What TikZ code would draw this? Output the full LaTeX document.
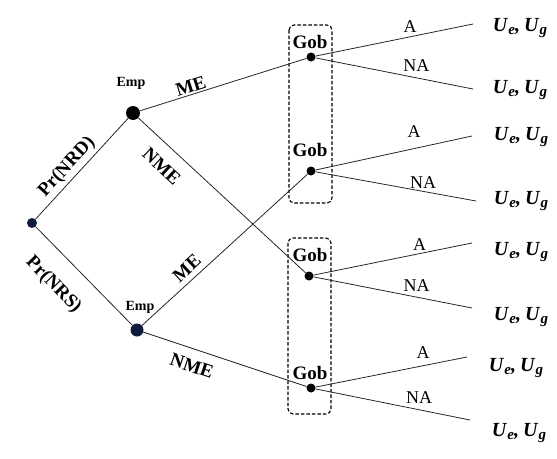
\documentclass[tikz,border=0pt]{standalone}
\usepackage{fontspec}
\setmainfont{Liberation Serif}
\definecolor{navy}{RGB}{16,28,60}
\newcommand{\paysub}[1]{\kern1pt\raisebox{-3.5pt}{\fontsize{15}{15}\selectfont #1}}

\begin{document}
\begin{tikzpicture}[x=1pt,y=-1pt,
  dot/.style={circle,fill=black,inner sep=0pt,minimum size=#1},
  branch/.style={line width=0.8pt,draw=black!85},
  movelab/.style={font=\fontsize{19}{21}\selectfont\bfseries,inner sep=1pt,sloped},
  actlab/.style={font=\fontsize{18}{20}\selectfont,inner sep=1pt},
  playerlab/.style={font=\fontsize{19}{21}\selectfont\bfseries,inner sep=1pt},
  paylab/.style={font=\fontsize{20}{22}\selectfont\bfseries\itshape,inner sep=1pt},
  infoset/.style={line width=1.1pt,dash pattern=on 3.5pt off 2pt,rounded corners=5pt}]
  \useasboundingbox (0,0) rectangle (557,458);
  % decision nodes
  \node[dot=10pt,fill=navy] (R) at (32,223) {};
  \node[dot=14pt] (E1) at (133,113) {};
  \node[dot=13pt,fill=navy] (E2) at (137,330) {};
  \node[dot=9pt] (G1) at (311,57) {};
  \node[dot=9pt] (G2) at (311,171) {};
  \node[dot=9pt] (G3) at (309,276) {};
  \node[dot=9pt] (G4) at (311,388) {};
  % player labels
  \node[playerlab,font=\fontsize{14}{16}\selectfont\bfseries] (EL1) at (131,83) {Emp};
  \node[playerlab,font=\fontsize{14}{16}\selectfont\bfseries] (EL2) at (140,307) {Emp};
  \foreach \g/\y in {G1/42,G2/150,G3/255,G4/373}
    \node[playerlab] (L\g) at (310,\y) {Gob};
  % information sets
  \draw[infoset] (289,25) rectangle (332,203);
  \draw[infoset] (288,238) rectangle (331,414);
  % chance and employer moves
  \draw[branch] (R) -- node[movelab,pos=.435,above=2pt] {Pr(NRD)} (E1);
  \draw[branch] (R) -- node[movelab,pos=.39,below=18pt] {Pr(NRS)} (E2);
  \draw[branch] (E1) -- node[movelab,pos=.32,above=0.5pt] {ME} (G1);
  \draw[branch] (E1) -- node[movelab,pos=.22,below=12pt] {NME} (G3);
  \draw[branch] (E2) -- node[movelab,pos=.32,above=4.5pt] {ME} (G2);
  \draw[branch] (E2) -- node[movelab,pos=.33,below=9pt] {NME} (G4);
  % payoffs
  \foreach \l/\x/\y/\px/\py in {L1/473/24/520/28,L2/473/89/520/90,L3/472/136/521/137,L4/476/201/521/201,
                                L5/472/243/521/252,L6/472/308/521/317,L7/467/357/516/368,L8/470/420/519/433}
  {
    \coordinate (\l) at (\x,\y);
    \node[paylab] (P\l) at (\px,\py) {U\paysub{e},\kern4pt U\paysub{g}};
  }
  % government moves
  \foreach \g/\l/\lab/\p/\d in {G1/L1/A/.6/2.5,G1/L2/NA/.64/5,G2/L3/A/.63/9.5,G2/L4/NA/.67/1.5,
                                G3/L5/A/.67/1.5,G3/L6/NA/.65/4.5,G4/L7/A/.71/5.5,G4/L8/NA/.67/5}
    \draw[branch] (\g) -- node[actlab,pos=\p,above=\d pt] {\lab} (\l);
\end{tikzpicture}
\end{document}
